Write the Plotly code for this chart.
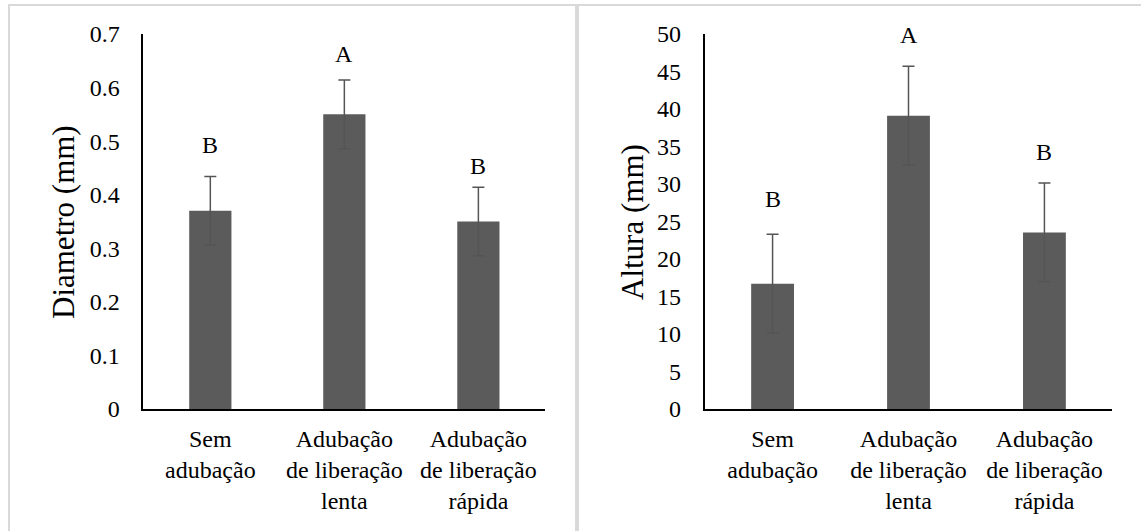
import plotly.graph_objects as go

categories = ["Sem<br>adubação", "Adubação<br>de liberação<br>lenta", "Adubação<br>de liberação<br>rápida"]

diametro = [0.37, 0.55, 0.35]
diametro_err = [0.064, 0.064, 0.064]
diametro_letters = ["B", "A", "B"]
diametro_letter_y = [0.492, 0.662, 0.453]

altura = [16.7, 39.1, 23.55]
altura_err = [6.6, 6.6, 6.6]
altura_letters = ["B", "A", "B"]
altura_letter_y = [28.0, 49.9, 34.3]

diam_ticks = [0, 0.1, 0.2, 0.3, 0.4, 0.5, 0.6, 0.7]
diam_ticktext = ["0", "0.1", "0.2", "0.3", "0.4", "0.5", "0.6", "0.7"]
alt_ticks = [0, 5, 10, 15, 20, 25, 30, 35, 40, 45, 50]

FONT = "Liberation Serif"
BAR = "#5b5b5b"
ERR = "#555555"
TICK_SIZE = 24

fig = go.Figure()
xpos = list(range(len(categories)))

fig.add_trace(go.Bar(
    x=xpos, y=diametro, width=0.315, marker=dict(color=BAR, line=dict(width=0)),
    error_y=dict(type="data", array=diametro_err, color=ERR, thickness=1.5, width=6),
    xaxis="x", yaxis="y", showlegend=False, hoverinfo="skip"))
fig.add_trace(go.Bar(
    x=xpos, y=altura, width=0.315, marker=dict(color=BAR, line=dict(width=0)),
    error_y=dict(type="data", array=altura_err, color=ERR, thickness=1.5, width=6),
    xaxis="x2", yaxis="y2", showlegend=False, hoverinfo="skip"))

annotations = []
for i, (t, yv) in enumerate(zip(diametro_letters, diametro_letter_y)):
    annotations.append(dict(x=i, y=yv, xref="x", yref="y", text=t, showarrow=False,
                            font=dict(family=FONT, size=TICK_SIZE, color="black"),
                            xanchor="center", yanchor="middle"))
for i, (t, yv) in enumerate(zip(altura_letters, altura_letter_y)):
    annotations.append(dict(x=i, y=yv, xref="x2", yref="y2", text=t, showarrow=False,
                            font=dict(family=FONT, size=TICK_SIZE, color="black"),
                            xanchor="center", yanchor="middle"))

annotations.append(dict(x=64 / 1141, y=1 - 222 / 531, xref="paper", yref="paper",
                        text="Diametro (mm)", textangle=-90, showarrow=False,
                        xanchor="center", yanchor="middle",
                        font=dict(family=FONT, size=31, color="black")))
annotations.append(dict(x=633 / 1141, y=1 - 222 / 531, xref="paper", yref="paper",
                        text="Altura (mm)", textangle=-90, showarrow=False,
                        xanchor="center", yanchor="middle",
                        font=dict(family=FONT, size=31, color="black")))

shapes = [
    dict(type="rect", xref="paper", yref="paper", x0=9 / 1141, x1=576 / 1141,
         y0=-0.1, y1=1 - 5 / 531, line=dict(color="#d9d9d9", width=2),
         fillcolor="rgba(0,0,0,0)", layer="below"),
    dict(type="rect", xref="paper", yref="paper", x0=578 / 1141, x1=1.1,
         y0=-0.1, y1=1 - 5 / 531, line=dict(color="#d9d9d9", width=2),
         fillcolor="rgba(0,0,0,0)", layer="below"),
]

xcommon = dict(tickmode="array", tickvals=xpos, ticktext=categories, range=[-0.5, 2.5],
               showline=True, linecolor="black", linewidth=1.5, showgrid=False, zeroline=False,
               ticks="", tickfont=dict(family=FONT, size=TICK_SIZE, color="black"),
               ticklabelstandoff=7, automargin=False, fixedrange=True)
ycommon = dict(showline=True, linecolor="black", linewidth=1.5, showgrid=False, zeroline=False,
               ticks="", tickfont=dict(family=FONT, size=TICK_SIZE, color="black"),
               ticklabelstandoff=17, automargin=False, fixedrange=True)

y_dom = [1 - 409 / 531, 1 - 34 / 531]

fig.update_layout(
    width=1141, height=531,
    margin=dict(l=0, r=0, t=0, b=0, pad=0),
    paper_bgcolor="white", plot_bgcolor="rgba(0,0,0,0)",
    xaxis=dict(domain=[143.3 / 1141, 545.4 / 1141], anchor="y", **xcommon),
    yaxis=dict(domain=y_dom, anchor="x", range=[0, 0.7], tickmode="array",
               tickvals=diam_ticks, ticktext=diam_ticktext, **ycommon),
    xaxis2=dict(domain=[704.6 / 1141, 1112.4 / 1141], anchor="y2", **xcommon),
    yaxis2=dict(domain=y_dom, anchor="x2", range=[0, 50], tickmode="array",
                tickvals=alt_ticks, **ycommon),
    annotations=annotations,
    shapes=shapes,
    bargap=0.685,
)

fig.write_html("out.html", config={"displayModeBar": False},
               post_script="document.body.style.margin='0';document.body.style.overflow='hidden';")
